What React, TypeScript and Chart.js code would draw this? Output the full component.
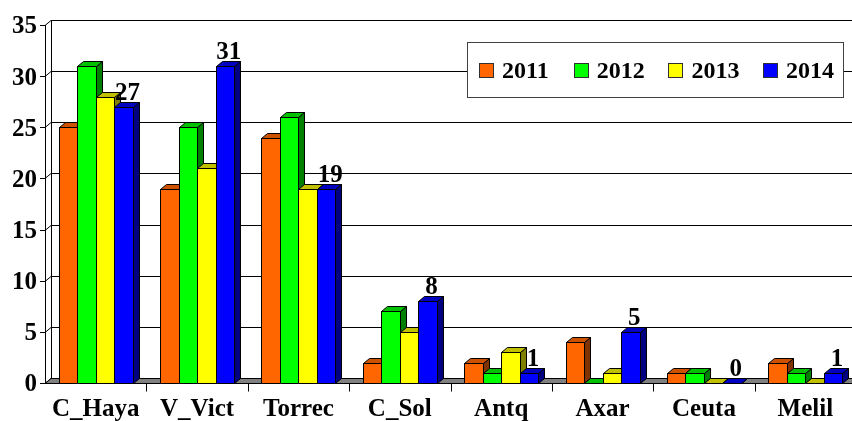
import React, { useEffect, useRef } from "react";
import { Chart, registerables } from "chart.js";

Chart.register(...registerables);

const categories = ["C_Haya", "V_Vict", "Torrec", "C_Sol", "Antq", "Axar", "Ceuta", "Melil"];
const seriesLabels = ["2011", "2012", "2013", "2014"];
const values2011 = [25, 19, 24, 2, 2, 4, 1, 2];
const values2012 = [31, 25, 26, 7, 1, 0, 1, 1];
const values2013 = [28, 21, 19, 5, 3, 1, 0, 0];
const values2014 = [27, 31, 19, 8, 1, 5, 0, 1];
const yTicks = [0, 5, 10, 15, 20, 25, 30, 35];

const frontColors = ["#FF6600", "#00FF00", "#FFFF00", "#0000FF"];
const topColors = ["#CC5200", "#00C000", "#C0C000", "#0000C0"];
const sideColors = ["#803300", "#008000", "#808000", "#000080"];

const FONT = "'Liberation Serif', 'Times New Roman', serif";
const DX = 6;
const DY = 5;

const threeD = {
  id: "threeD",
  beforeDatasetsDraw(chart: any) {
    const ctx = chart.ctx;
    const area = chart.chartArea;
    const ys = chart.scales.y;
    const xs = chart.scales.x;
    ctx.save();
    ctx.lineWidth = 1;
    ctx.strokeStyle = "#000";
    // back wall gridlines
    yTicks.forEach((v) => {
      const y = Math.round(ys.getPixelForValue(v)) + 0.5;
      ctx.beginPath();
      ctx.moveTo(area.left - 5, y);
      ctx.lineTo(area.left, y);
      ctx.lineTo(area.left + DX, y - DY);
      ctx.lineTo(area.right + DX + 20, y - DY);
      ctx.stroke();
    });
    // back wall left edge
    ctx.beginPath();
    ctx.moveTo(area.left + DX + 0.5, ys.getPixelForValue(35) - DY);
    ctx.lineTo(area.left + DX + 0.5, ys.getPixelForValue(0) - DY);
    ctx.stroke();
    // floor
    const b = Math.round(ys.getPixelForValue(0)) + 0.5;
    ctx.fillStyle = "#808080";
    ctx.beginPath();
    ctx.moveTo(area.left, b);
    ctx.lineTo(area.left + DX, b - DY);
    ctx.lineTo(area.right + DX + 20, b - DY);
    ctx.lineTo(area.right + 20, b);
    ctx.closePath();
    ctx.fill();
    ctx.stroke();
    // front axis
    ctx.beginPath();
    ctx.moveTo(area.left + 0.5, ys.getPixelForValue(35));
    ctx.lineTo(area.left + 0.5, b);
    ctx.stroke();
    // category ticks
    for (let i = 1; i < categories.length; i++) {
      const x = Math.round((xs.getPixelForValue(i - 1) + xs.getPixelForValue(i)) / 2) + 0.5;
      ctx.beginPath();
      ctx.moveTo(x, b);
      ctx.lineTo(x, b + 8);
      ctx.stroke();
    }
    // bars, category by category
    const metas = chart.data.datasets.map((_: any, i: number) => chart.getDatasetMeta(i));
    for (let c = 0; c < categories.length; c++) {
      metas.forEach((meta: any, s: number) => {
        const el = meta.data[c];
        const x0 = Math.round(el.x - el.width / 2) + 0.5;
        const x1 = Math.round(el.x + el.width / 2) + 0.5;
        const yt = Math.round(el.y) + 0.5;
        const yb = Math.round(el.base) + 0.5;
        if (yb - yt > 0.5) {
          ctx.fillStyle = frontColors[s];
          ctx.fillRect(x0, yt, x1 - x0, yb - yt);
          ctx.strokeRect(x0, yt, x1 - x0, yb - yt);
        }
        ctx.fillStyle = sideColors[s];
        ctx.beginPath();
        ctx.moveTo(x1, yt);
        ctx.lineTo(x1 + DX, yt - DY);
        ctx.lineTo(x1 + DX, yb - DY);
        ctx.lineTo(x1, yb);
        ctx.closePath();
        ctx.fill();
        ctx.stroke();
        ctx.fillStyle = topColors[s];
        ctx.beginPath();
        ctx.moveTo(x0, yt);
        ctx.lineTo(x0 + DX, yt - DY);
        ctx.lineTo(x1 + DX, yt - DY);
        ctx.lineTo(x1, yt);
        ctx.closePath();
        ctx.fill();
        ctx.stroke();
      });
    }
    // value labels for last series
    const last = metas[metas.length - 1];
    const data = chart.data.datasets[metas.length - 1].data;
    ctx.fillStyle = "#000";
    ctx.font = `bold 25px ${FONT}`;
    ctx.textAlign = "center";
    ctx.textBaseline = "alphabetic";
    last.data.forEach((el: any, i: number) => {
      ctx.fillText(String(data[i]), el.x + DX / 2 + 1, el.y - DY - 2);
    });
    ctx.restore();
    return false;
  },
  afterDraw(chart: any) {
    const ctx = chart.ctx;
    ctx.save();
    const bx = 467.5, by = 42.5, bw = 376, bh = 55;
    ctx.fillStyle = "#fff";
    ctx.fillRect(bx, by, bw, bh);
    ctx.strokeStyle = "#404040";
    ctx.lineWidth = 1;
    ctx.strokeRect(bx, by, bw, bh);
    ctx.font = `bold 24px ${FONT}`;
    ctx.textAlign = "left";
    ctx.textBaseline = "alphabetic";
    seriesLabels.forEach((lab, i) => {
      const x = 479 + i * 94.7;
      ctx.fillStyle = frontColors[i];
      ctx.fillRect(Math.round(x) + 0.5, 63.5, 14, 14);
      ctx.strokeStyle = "#303030";
      ctx.strokeRect(Math.round(x) + 0.5, 63.5, 14, 14);
      ctx.fillStyle = "#000";
      ctx.fillText(lab, x + 23, 78);
    });
    ctx.restore();
  },
};

export default function App() {
  const ref = useRef<HTMLCanvasElement>(null);
  useEffect(() => {
    if (!ref.current) return;
    const allValues = [values2011, values2012, values2013, values2014];
    const chart = new Chart(ref.current, {
      type: "bar",
      data: {
        labels: categories,
        datasets: seriesLabels.map((lab, i) => ({
          label: lab,
          data: allValues[i],
          backgroundColor: frontColors[i],
          categoryPercentage: 0.73,
          barPercentage: 1,
        })),
      },
      options: {
        responsive: false,
        animation: false,
        devicePixelRatio: 1,
        layout: { padding: { top: 25, right: 14, left: 0, bottom: 0 } },
        plugins: { legend: { display: false }, tooltip: { enabled: false } },
        scales: {
          x: {
            grid: { display: false, drawTicks: false },
            border: { display: false },
            ticks: { color: "#000", font: { family: FONT, size: 25, weight: "bold" }, padding: 12, maxRotation: 0 },
            afterFit: (s: any) => { s.height = 38; },
          },
          y: {
            min: 0,
            max: 35,
            grid: { display: false, drawTicks: false },
            border: { display: false },
            ticks: { stepSize: 5, color: "#000", font: { family: FONT, size: 25, weight: "bold" }, padding: 8, labelOffset: 2 },
            afterFit: (s: any) => { s.width = 45; },
          },
        },
      },
      plugins: [threeD],
    });
    return () => chart.destroy();
  }, []);
  return (
    <div style={{ position: "fixed", left: 0, top: 0, width: 852, height: 421, overflow: "hidden", background: "#fff" }}>
      <canvas ref={ref} width={870} height={421} style={{ display: "block" }} />
    </div>
  );
}
